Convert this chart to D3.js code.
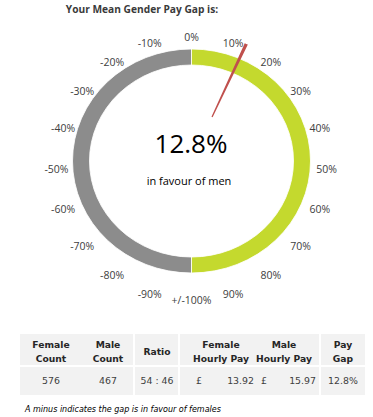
<!DOCTYPE html>
<html><head><meta charset="utf-8">
<script src="https://cdn.jsdelivr.net/npm/d3@7"></script>
<style>
html,body{margin:0;padding:0;background:#fff;}
svg{display:block;}
</style></head>
<body>
<script>
// ---- data ----
const title = "Your Mean Gender Pay Gap is:";
const gapValue = 12.8;
const gapText = "12.8%";
const gapSubText = "in favour of men";
const tickValues = [0,10,20,30,40,50,60,70,80,90,100,-90,-80,-70,-60,-50,-40,-30,-20,-10];
const tickLabels = ["0%","10%","20%","30%","40%","50%","60%","70%","80%","90%","+/-100%","-90%","-80%","-70%","-60%","-50%","-40%","-30%","-20%","-10%"];
const headerLines = [["Female","Count"],["Male","Count"],["Ratio"],["Female","Hourly Pay"],["Male","Hourly Pay"],["Pay","Gap"]];
const femaleCount = 576, maleCount = 467;
const ratioText = "54 : 46";
const femaleHourly = 13.92, maleHourly = 15.97;
const payGapText = "12.8%";
const footnote = "A minus indicates the gap is in favour of females";

// ---- layout ----
const W = 373, H = 417;
const svg = d3.select("body").append("svg").attr("width", W).attr("height", H);
const cx = 191.5, cy = 161, sx = 1.0625;
const angle = d3.scaleLinear().domain([-100, 100]).range([-Math.PI, Math.PI]);

svg.append("text").attr("x", 142).attr("y", 13).attr("text-anchor", "middle")
  .attr("font-family", "Open Sans").attr("font-weight", "bold").attr("font-size", 10.2)
  .attr("fill", "#3a3a3a").text(title);

const g = svg.append("g").attr("transform", `translate(${cx},${cy}) scale(${sx},1)`);
const ringArc = d3.arc().innerRadius(96).outerRadius(112);
const segs = [{s: -100, e: 0, c: "#8c8c8c"}, {s: 0, e: 100, c: "#c4d92e"}];
g.selectAll("path.seg").data(segs).enter().append("path")
  .attr("d", d => ringArc({startAngle: angle(d.s), endAngle: angle(d.e)}))
  .attr("fill", d => d.c).attr("stroke", "#fff").attr("stroke-width", 0.8);

// needle
const needleArc = d3.arc().innerRadius(48).outerRadius(128);
g.append("path")
  .attr("d", needleArc({startAngle: angle(gapValue), endAngle: angle(gapValue) + 0.025}))
  .attr("fill", "#c0504d");

// tick labels
const lcx = cx, lcy = 168.5, lrx = 135, lry = 131.5;
svg.selectAll("text.tick").data(tickValues).enter().append("text")
  .attr("x", d => lcx + lrx * Math.sin(angle(d)))
  .attr("y", d => lcy - lry * Math.cos(angle(d)) + 4)
  .attr("text-anchor", "middle").attr("font-family", "Open Sans").attr("font-size", 10.5)
  .attr("fill", "#404040").text((d, i) => tickLabels[i]);

svg.append("text").attr("x", 191).attr("y", 153).attr("text-anchor", "middle")
  .attr("font-family", "Open Sans").attr("font-size", 26).attr("fill", "#000").text(gapText);
svg.append("text").attr("x", 189).attr("y", 185).attr("text-anchor", "middle")
  .attr("font-family", "Open Sans").attr("font-size", 11).attr("fill", "#000").text(gapSubText);

// ---- table ----
const blocks = [[20,133],[135,178],[180,319],[321,365]];
const rows = [[334,365],[367,395]];
rows.forEach(r => blocks.forEach(b => {
  svg.append("rect").attr("x", b[0]).attr("y", r[0]).attr("width", b[1]-b[0]).attr("height", r[1]-r[0]).attr("fill", "#f2f2f2");
}));
const colCenters = [51, 108, 157, 221, 284, 343];
const tf = "DejaVu Sans";
headerLines.forEach((lines, i) => {
  const t = svg.append("text").attr("text-anchor", "middle").attr("font-family", tf)
    .attr("font-weight", "bold").attr("font-size", 9.2).attr("fill", "#262626");
  if (lines.length === 1) {
    t.append("tspan").attr("x", colCenters[i]).attr("y", 355).text(lines[0]);
  } else {
    lines.forEach((l, j) => t.append("tspan").attr("x", colCenters[i]).attr("y", 348 + j * 14).text(l));
  }
});
const dataStyle = s => s.attr("font-family", tf).attr("font-size", 9.4).attr("fill", "#404040");
const fmt = d3.format(".2f");
[[colCenters[0], String(femaleCount)], [colCenters[1], String(maleCount)], [colCenters[2], ratioText], [colCenters[5], payGapText]]
  .forEach(([x, t]) => dataStyle(svg.append("text").attr("x", x).attr("y", 384).attr("text-anchor", "middle")).text(t));
[[196, 254, femaleHourly], [261, 316, maleHourly]].forEach(([px, nx, v]) => {
  dataStyle(svg.append("text").attr("x", px).attr("y", 384)).text("£");
  dataStyle(svg.append("text").attr("x", nx).attr("y", 384).attr("text-anchor", "end")).text(fmt(v));
});

svg.append("text").attr("x", 25).attr("y", 412).attr("font-family", tf).attr("font-style", "italic")
  .attr("font-size", 8).attr("fill", "#000").text(footnote);
</script>
</body></html>
